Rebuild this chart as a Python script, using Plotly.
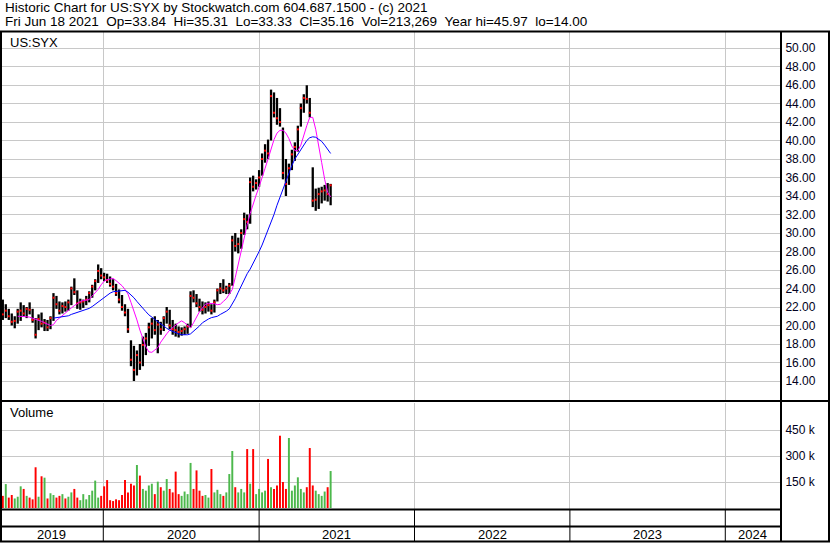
import plotly.graph_objects as go
import pandas as pd

# ---------------- data (weekly bars) ----------------
week_start = "2019-05-03"

high = [23.3, 22.8, 22.3, 21.8, 21.3, 21.0, 21.8, 22.5, 22.2, 22.0,
        22.5, 21.8, 20.8, 21.2, 21.4, 20.7, 20.6, 21.0, 23.5, 23.2,
        22.6, 22.5, 22.6, 22.8, 24.2, 25.1, 23.8, 22.9, 22.8, 23.2,
        23.7, 24.4, 25.0, 26.6, 26.2, 25.7, 25.6, 25.3, 25.0, 24.5,
        23.9, 23.3, 22.3, 21.8, 18.4, 17.8, 17.3, 18.0, 18.8, 19.2,
        20.3, 20.8, 21.0, 20.6, 20.4, 21.0, 22.0, 21.7, 20.6, 20.2,
        19.9, 19.8, 19.9, 20.2, 23.7, 23.8, 23.4, 22.9, 22.6, 22.5,
        22.6, 22.3, 22.8, 24.0, 24.6, 25.0, 24.3, 24.6, 29.7, 30.0,
        29.5, 30.4, 32.2, 32.0, 36.0, 36.2, 35.8, 36.8, 38.6, 39.6,
        40.1, 45.5, 45.2, 44.6, 43.5, 41.4, 38.0, 37.5, 39.0, 39.8,
        41.6, 44.0, 45.0, 45.97, 44.6, 37.1, 34.8, 34.9, 35.0, 35.2,
        35.4, 35.31]

low = [22.0, 20.6, 20.8, 20.6, 20.0, 19.7, 20.2, 20.5, 21.0, 20.8,
       21.2, 20.3, 18.6, 19.5, 19.8, 19.4, 19.4, 19.6, 20.5, 21.8,
       21.2, 21.3, 21.5, 21.6, 22.2, 23.3, 21.8, 21.7, 21.9, 22.2,
       22.5, 23.0, 23.8, 24.6, 25.0, 24.8, 24.6, 24.2, 23.8, 23.2,
       22.4, 21.6, 21.0, 19.2, 15.6, 14.0, 14.6, 15.2, 15.6, 16.8,
       17.8, 18.6, 19.0, 17.0, 19.0, 19.4, 20.2, 19.6, 19.0, 18.8,
       18.7, 18.9, 19.0, 19.1, 19.8, 22.5, 22.0, 21.5, 21.2, 21.3,
       21.5, 21.2, 21.4, 22.6, 23.4, 23.5, 23.4, 23.4, 24.3, 28.0,
       27.8, 28.3, 29.8, 30.4, 31.0, 34.5, 34.7, 35.0, 36.2, 37.6,
       38.0, 40.0, 42.5, 41.7, 41.5, 35.8, 34.0, 35.2, 36.8, 37.8,
       38.8, 41.5, 43.0, 44.0, 42.5, 32.8, 32.4, 32.6, 33.2, 33.5,
       33.4, 33.0]

close = [22.6, 21.2, 21.6, 21.0, 20.4, 20.5, 21.5, 21.6, 21.3, 21.8,
         21.7, 20.6, 19.0, 20.7, 20.2, 20.3, 19.8, 20.8, 23.0, 22.3,
         21.6, 22.1, 22.0, 22.5, 24.0, 23.6, 22.4, 22.5, 22.6, 22.8,
         23.5, 24.2, 24.8, 25.9, 25.4, 25.2, 24.9, 24.5, 24.2, 23.5,
         22.8, 22.0, 21.4, 19.6, 16.3, 15.2, 16.8, 16.0, 17.9, 18.6,
         19.8, 20.2, 19.5, 20.1, 19.6, 20.8, 21.5, 20.0, 19.6, 19.5,
         19.3, 19.4, 19.6, 19.9, 23.2, 23.0, 22.4, 22.0, 21.7, 22.0,
         22.2, 21.6, 22.5, 23.8, 24.0, 23.8, 24.0, 24.3, 29.2, 28.6,
         28.8, 30.0, 31.5, 31.2, 35.5, 35.0, 35.4, 36.0, 38.0, 38.9,
         38.6, 44.8, 43.0, 42.4, 42.0, 36.5, 35.3, 37.0, 38.5, 39.3,
         41.2, 43.5, 44.6, 44.5, 43.0, 33.5, 33.6, 34.2, 34.5, 34.6,
         34.2, 35.16]

ma_fast = [None, None, None, None, None, None, 21.0, 21.0, 21.0, 20.95,
           20.9, 20.8, 20.7, 20.6, 20.45, 20.3, 20.15, 20.0, 20.1, 20.55,
           20.8, 21.1, 21.4, 21.65, 21.9, 22.15, 22.4, 22.6, 22.7, 22.75,
           22.8, 23.2, 23.5, 23.9, 24.4, 24.8, 24.95, 25.05, 25.1, 24.85,
           24.6, 24.3, 23.9, 23.4, 22.5, 21.6, 20.6, 19.5, 18.6, 17.7,
           17.15, 17.1, 17.35, 17.6, 18.2, 18.7, 19.1, 19.5, 19.8, 20.1,
           20.3, 20.5, 20.3, 20.0, 19.75, 20.3, 20.9, 21.5, 21.9, 22.3,
           22.4, 22.4, 22.35, 22.25, 22.3, 22.6, 22.9, 23.4, 23.9, 25.2,
           26.6, 28.3, 29.7, 30.9, 32.1, 33.2, 34.1, 35.0, 35.9, 37.0,
           38.0, 39.2, 40.1, 40.8, 41.1, 41.1, 40.8, 40.2, 39.4, 38.9,
           38.9, 39.5, 40.6, 41.6, 42.5, 42.5, 41.2, 39.6, 37.6, 35.8,
           34.4, 33.9]

ma_slow = [None] * 18 + [
           20.8, 20.85, 20.9, 20.95, 21.0, 21.05, 21.2, 21.3, 21.4, 21.5,
           21.6, 21.7, 21.85, 22.05, 22.3, 22.55, 22.85, 23.1, 23.35, 23.5,
           23.65, 23.7, 23.75, 23.8, 23.8, 23.6, 23.35, 23.0, 22.6, 22.2,
           21.85, 21.5, 21.15, 20.9, 20.6, 20.35, 20.15, 19.9, 19.7, 19.5,
           19.35, 19.2, 19.1, 19.0, 19.0, 19.0, 19.1, 19.35, 19.7, 19.95,
           20.3, 20.55, 20.7, 20.85, 20.95, 21.0, 21.2, 21.35, 21.55, 21.8,
           22.3, 22.9, 23.6, 24.3, 25.0, 25.6, 26.1, 26.7, 27.3, 28.0,
           28.7, 29.5, 30.3, 31.1, 32.0, 33.0, 33.9, 34.8, 35.7, 36.5,
           37.3, 38.0, 38.5, 39.0, 39.6, 40.0, 40.3, 40.4, 40.35, 40.15,
           39.9, 39.5, 39.1, 38.6]

volume = [95000, 70000, 138000, 60000, 75000, 55000, 65000, 125000, 110000, 70000,
          60000, 50000, 235000, 65000, 183000, 175000, 55000, 85000, 75000, 60000,
          70000, 80000, 55000, 65000, 90000, 110000, 60000, 45000, 80000, 50000,
          75000, 100000, 158000, 60000, 70000, 125000, 161000, 45000, 40000, 50000,
          45000, 75000, 161000, 90000, 140000, 130000, 248000, 187000, 110000, 100000,
          130000, 140000, 80000, 152000, 120000, 100000, 167000, 110000, 90000, 210000,
          80000, 70000, 95000, 80000, 260000, 110000, 217000, 100000, 70000, 75000,
          60000, 225000, 90000, 105000, 80000, 70000, 90000, 196000, 329000, 120000,
          90000, 110000, 90000, 340000, 140000, 340000, 80000, 110000, 90000, 100000,
          283000, 120000, 110000, 130000, 417000, 150000, 110000, 404000, 100000, 130000,
          177000, 110000, 90000, 120000, 346000, 130000, 100000, 80000, 70000, 95000,
          120000, 213269]

price_ticks = [14, 16, 18, 20, 22, 24, 26, 28, 30, 32, 34, 36, 38, 40, 42, 44, 46, 48, 50]
volume_ticks = [150000, 300000, 450000]
years = [2019, 2020, 2021, 2022, 2023, 2024]

header1 = "Historic Chart for US:SYX by Stockwatch.com 604.687.1500 - (c) 2021"
header2 = ("Fri Jun 18 2021  Op=33.84  Hi=35.31  Lo=33.33  Cl=35.16  "
           "Vol=213,269  Year hi=45.97  lo=14.00")
symbol = "US:SYX"

# ---------------- layout helpers (pixel -> paper) ----------------
W, H = 830, 543
def px(x):
    return x / W
def py(y):
    return 1 - y / H

FONT = "Liberation Sans, Arial, sans-serif"
dates = pd.date_range(week_start, periods=len(close), freq="7D")
x_start = pd.Timestamp("2019-05-03 09:30")
x_end = pd.Timestamp("2024-05-08 12:00")
bar_w = 5.4 * 24 * 3600 * 1000  # ms

vol_colors = []
for i, c in enumerate(close):
    prev = close[i - 1] if i > 0 else c
    if c > prev:
        vol_colors.append("#4cb84c")
    elif c < prev:
        vol_colors.append("#ff0000")
    else:
        vol_colors.append("#a0a0a0")

fig = go.Figure()

fig.add_trace(go.Bar(
    x=dates, y=[h - l for h, l in zip(high, low)], base=low, width=bar_w,
    marker=dict(color="black", line=dict(width=0)),
    xaxis="x", yaxis="y", hoverinfo="skip"))
fig.add_trace(go.Scatter(
    x=dates, y=close, mode="markers",
    marker=dict(symbol="square", size=2, color="red", line=dict(width=0)),
    xaxis="x", yaxis="y", hoverinfo="skip"))
fig.add_trace(go.Scatter(
    x=dates, y=ma_fast, mode="lines", line=dict(color="#ff00ff", width=1),
    xaxis="x", yaxis="y", connectgaps=False, hoverinfo="skip"))
fig.add_trace(go.Scatter(
    x=dates, y=ma_slow, mode="lines", line=dict(color="#0000ff", width=1),
    xaxis="x", yaxis="y", connectgaps=False, hoverinfo="skip"))
fig.add_trace(go.Bar(
    x=dates, y=volume, width=bar_w * 0.85,
    marker=dict(color=vol_colors, line=dict(width=0)),
    xaxis="x2", yaxis="y2", hoverinfo="skip"))

grid = "#c8c8c8"
xcommon = dict(type="date", range=[x_start, x_end], domain=[0, px(780)],
               showticklabels=False, ticks="", showgrid=True, gridcolor=grid,
               gridwidth=1, tick0="2019-01-01", dtick="M12", zeroline=False,
               showline=False, fixedrange=True)

fig.update_layout(
    width=W, height=H,
    margin=dict(l=0, r=0, t=0, b=0),
    paper_bgcolor="white", plot_bgcolor="white",
    showlegend=False, barmode="overlay",
    xaxis=dict(anchor="y", **xcommon),
    xaxis2=dict(anchor="y2", **xcommon),
    yaxis=dict(domain=[py(401), py(32)], range=[50 - (401 - 48) / 9.25, 50 + (48 - 32) / 9.25],
               side="right", anchor="x", tickvals=price_ticks,
               ticktext=["%.2f" % v for v in price_ticks],
               ticks="outside", ticklen=2, tickcolor="rgba(0,0,0,0)",
               tickfont=dict(family=FONT, size=12, color="#000020"),
               showgrid=True, gridcolor=grid, zeroline=False, showline=False,
               fixedrange=True),
    yaxis2=dict(domain=[py(509), py(403)], range=[-5769, 605769],
                side="right", anchor="x2", tickvals=volume_ticks,
                ticktext=["%d k" % (v // 1000) for v in volume_ticks],
                ticks="outside", ticklen=2, tickcolor="rgba(0,0,0,0)",
                tickfont=dict(family=FONT, size=12, color="#000020"),
                showgrid=True, gridcolor=grid, zeroline=False, showline=False,
                fixedrange=True),
)

shapes = []
def hline(y, x0, x1, w=2, color="black"):
    shapes.append(dict(type="line", xref="paper", yref="paper", x0=px(x0), x1=px(x1),
                       y0=py(y), y1=py(y), line=dict(color=color, width=w), layer="above"))
def vline(x, y0, y1, w=2, color="black"):
    shapes.append(dict(type="line", xref="paper", yref="paper", x0=px(x), x1=px(x),
                       y0=py(y0), y1=py(y1), line=dict(color=color, width=w), layer="above"))

hline(31.5, 0, 830)
hline(401, 0, 830)
hline(509.5, 0, 781)
hline(526.5, 0, 781)
hline(541.5, 0, 830)
vline(1, 31, 542)
vline(781, 31, 542)
vline(829, 31, 542)
for yr in years[1:]:
    shapes.append(dict(type="line", xref="x", yref="paper", x0=f"{yr}-01-01", x1=f"{yr}-01-01",
                       y0=py(541), y1=py(509.5), line=dict(color="black", width=1), layer="above"))

annotations = [
    dict(text=header1, x=px(3), y=py(8), xref="paper", yref="paper", xanchor="left",
         yanchor="middle", showarrow=False, font=dict(family=FONT, size=13.5, color="black")),
    dict(text=header2.replace("  ", "\u00a0\u00a0"), x=px(3), y=py(21), xref="paper", yref="paper",
         xanchor="left", yanchor="middle", showarrow=False,
         font=dict(family=FONT, size=13.5, color="black")),
    dict(text=symbol, x=px(8), y=py(42), xref="paper", yref="paper", xanchor="left",
         yanchor="middle", showarrow=False, font=dict(family=FONT, size=13, color="black")),
    dict(text="Volume", x=px(8), y=py(413), xref="paper", yref="paper", xanchor="left",
         yanchor="middle", showarrow=False, font=dict(family=FONT, size=13, color="black")),
]
for yr in years:
    a = max(pd.Timestamp(f"{yr}-01-01"), x_start)
    b = min(pd.Timestamp(f"{yr + 1}-01-01"), x_end)
    mid = a + (b - a) / 2
    annotations.append(dict(text=str(yr), x=mid, y=py(534.5), xref="x", yref="paper",
                            xanchor="center", yanchor="middle", showarrow=False,
                            font=dict(family=FONT, size=13, color="black")))

fig.update_layout(shapes=shapes, annotations=annotations)
fig.write_html("out.html", config={"displayModeBar": False, "staticPlot": True},
               post_script="document.body.style.margin='0';document.body.style.overflow='hidden';")
